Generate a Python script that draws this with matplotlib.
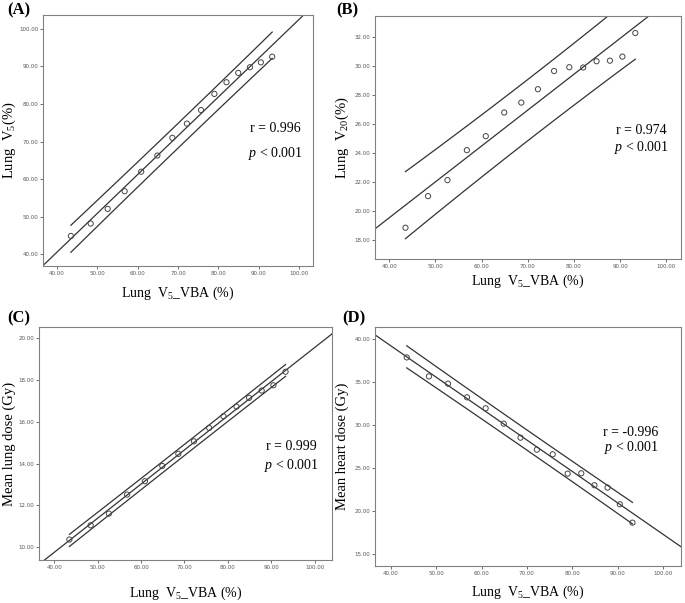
import numpy as np
import matplotlib
matplotlib.use("Agg")
import matplotlib.pyplot as plt

# Lung V5 from VBA (%), shared x for all four panels
v5_vba = [43.5, 48.4, 52.6, 56.8, 60.9, 64.9, 68.6, 72.2, 75.7, 79.0, 82.0, 84.9, 87.8, 90.5, 93.3]

# panel values
lung_v5 = [44.9, 48.2, 52.1, 56.8, 62.0, 66.3, 71.0, 74.8, 78.4, 82.7, 85.8, 88.3, 89.8, 91.1, 92.6]
lung_v20 = [18.87, 21.04, 22.14, 24.20, 25.16, 26.79, 27.47, 28.39, 29.64, 29.90, 29.88, 30.31, 30.35, 30.63, 32.25]
mean_lung = [10.37, 11.05, 11.61, 12.52, 13.16, 13.89, 14.47, 15.07, 15.71, 16.27, 16.73, 17.15, 17.50, 17.75, 18.40]
mean_heart = [37.86, 35.65, 34.80, 33.21, 31.93, 30.14, 28.51, 27.11, 26.57, 24.32, 24.36, 22.97, 22.69, 20.75, 18.61]

r_labels = ["r = 0.996", "r = 0.974", "r = 0.999", "r = -0.996"]
panel_tags = ["(A)", "(B)", "(C)", "(D)"]
ylabels = [r"Lung  V$_5$(%)", r"Lung  V$_{20}$(%)", "Mean lung dose (Gy)", "Mean heart dose (Gy)"]
xlabel = r"Lung  V$_5$_VBA (%)"
yticks = [[40, 50, 60, 70, 80, 90, 100], [18, 20, 22, 24, 26, 28, 30, 32],
          [10, 12, 14, 16, 18, 20], [15, 20, 25, 30, 35, 40]]
xticks = [40, 50, 60, 70, 80, 90, 100]

plt.rcParams['font.family'] = ['Liberation Serif', 'DejaVu Serif']
plt.rcParams['mathtext.fontset'] = 'custom'
plt.rcParams['mathtext.rm'] = 'Liberation Serif'
plt.rcParams['mathtext.it'] = 'Liberation Serif:italic'

fig = plt.figure(figsize=(6.85, 6.03), dpi=100)

# axes boxes in pixels: left, top, right, bottom
W, H = 685, 603
boxes = [(43, 15, 313, 266), (375, 16, 681, 259), (39, 327, 332, 560), (375, 327, 681, 566)]
xlims = [(36.6, 103.4), (36.9, 103.2), (36.5, 104.0), (36.5, 104.0)]
ylims = [(36.9, 103.7), (16.72, 33.42), (9.39, 20.54), (13.56, 41.4)]
tag_pos = [(7, 14), (336, 14), (7, 322), (342, 322)]
# r / p text centres in pixels: x, y of r line, y of p line
r_pos = [(275, 129, 154), (641, 130, 147), (291, 447, 465), (631, 432, 448)]
ylab_x = [9, 342, 9, 342]
xlab_y = [293, 281, 593, 592]

t_crit = 2.160  # t(0.975, df=13)
ys = [lung_v5, lung_v20, mean_lung, mean_heart]
line_col = '#333333'

for i in range(4):
    l, t, r, b = boxes[i]
    aw, ah = r - l, b - t
    ax = fig.add_axes([l / W, 1 - b / H, aw / W, ah / H])
    x = np.array(v5_vba)
    y = np.array(ys[i])
    slope, icpt = np.polyfit(x, y, 1)
    n = len(x)
    resid = y - (icpt + slope * x)
    s = np.sqrt(np.sum(resid ** 2) / (n - 2))
    sxx = np.sum((x - x.mean()) ** 2)

    xf = np.linspace(xlims[i][0], xlims[i][1], 50)
    ax.plot(xf, icpt + slope * xf, color=line_col, lw=0.9)
    xb = np.linspace(x.min(), x.max(), 50)
    half = t_crit * s * np.sqrt(1 + 1 / n + (xb - x.mean()) ** 2 / sxx)
    ax.plot(xb, icpt + slope * xb + half, color=line_col, lw=0.9)
    ax.plot(xb, icpt + slope * xb - half, color=line_col, lw=0.9)
    ax.scatter(x, y, s=14, facecolors='none', edgecolors='#444444', linewidths=0.7, zorder=3)

    ax.set_xlim(xlims[i])
    ax.set_ylim(ylims[i])
    ax.set_xticks(xticks)
    ax.set_yticks(yticks[i])
    ax.set_xticklabels([f"{v:.2f}" for v in xticks], family='DejaVu Sans', fontsize=4.0, color='#555555')
    ax.set_yticklabels([f"{v:.2f}" for v in yticks[i]], family='DejaVu Sans', fontsize=4.0, color='#555555')
    ax.tick_params(length=2, width=0.6, color='#555555', pad=1.5)
    for sp in ax.spines.values():
        sp.set_color('#808080')
        sp.set_linewidth(0.8)

    ax.set_xlabel(xlabel, fontsize=10)
    ax.xaxis.set_label_coords(0.5, -(xlab_y[i] - b) / ah)
    ax.xaxis.label.set_va('center')
    ax.set_ylabel(ylabels[i], fontsize=10.5)
    ax.yaxis.set_label_coords((ylab_x[i] - l) / aw, 0.5)
    ax.yaxis.label.set_va('center')

    cx, ry, py = r_pos[i]
    fig.text(cx / W, 1 - ry / H, r_labels[i], fontsize=10, ha='center', va='center')
    fig.text(cx / W, 1 - py / H, r"$p$ < 0.001", fontsize=10, ha='center', va='center')
    fig.text(tag_pos[i][0] / W, 1 - tag_pos[i][1] / H, panel_tags[i],
             fontsize=12, fontweight='bold', ha='left', va='baseline')

fig.savefig("out.png", dpi=100)
